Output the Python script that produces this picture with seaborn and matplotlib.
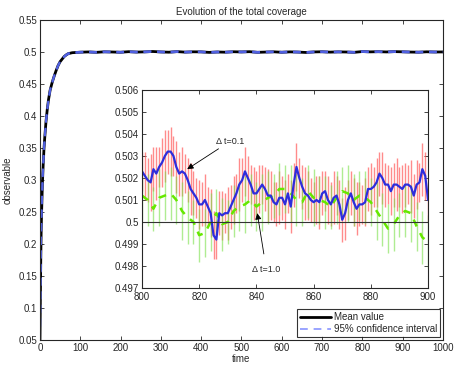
import numpy as np
import pandas as pd
import matplotlib
matplotlib.use('Agg')
import matplotlib.pyplot as plt
import seaborn as sns

# ---- main curve: mean coverage vs time ----
main_t = [0, 1, 2, 3, 4, 5, 6, 8, 10, 12, 15, 18, 21, 25, 30, 35, 40, 45, 50, 55, 60, 65, 70, 80, 90,
          100, 120, 140, 160, 180, 200, 220, 240, 260, 280, 300, 320, 340, 360, 380, 400, 420, 440, 460,
          480, 500, 520, 540, 560, 580, 600, 620, 640, 660, 680, 700, 720, 740, 760, 780, 800, 820, 840,
          860, 880, 900, 920, 940, 960, 980, 1000]
main_y = [0.05, 0.12, 0.18, 0.222, 0.25, 0.272, 0.295, 0.325, 0.35, 0.368, 0.392, 0.41, 0.425, 0.44,
          0.452, 0.462, 0.471, 0.479, 0.485, 0.489, 0.493, 0.4955, 0.4975, 0.4990, 0.4994,
          0.4998, 0.5002, 0.4996, 0.5004, 0.5001, 0.4997, 0.5006, 0.5000, 0.5003, 0.5009, 0.5002,
          0.4998, 0.5007, 0.4999, 0.5004, 0.5003, 0.4995, 0.5001, 0.4998, 0.5005, 0.5002, 0.5006,
          0.4996, 0.5000, 0.5004, 0.4997, 0.5003, 0.5000, 0.4994, 0.5002, 0.5005, 0.4999, 0.5003,
          0.5001, 0.4996, 0.5008, 0.5003, 0.5006, 0.5002, 0.5007, 0.5004, 0.5000, 0.4998, 0.5004,
          0.5001, 0.5002]
ci_half = 0.0006

# ---- inset: dt = 0.1 (blue, red error bars), every time unit 800..900 ----
t_fine = list(range(800, 901))
y_fine = [0.5023, 0.5021, 0.5019, 0.5018, 0.5024, 0.5022, 0.5025, 0.5027, 0.5030, 0.5032,
          0.5032, 0.5030, 0.5025, 0.5022, 0.5023, 0.5022, 0.5019, 0.5015, 0.5013, 0.5011,
          0.5008, 0.5008, 0.5010, 0.5007, 0.5004, 0.4994, 0.4992, 0.5004, 0.5003, 0.5004,
          0.5004, 0.5007, 0.5010, 0.5013, 0.5017, 0.5019, 0.5023, 0.5020, 0.5017, 0.5013,
          0.5013, 0.5015, 0.5017, 0.5015, 0.5012, 0.5012, 0.5009, 0.5008, 0.5011, 0.5011,
          0.5008, 0.5013, 0.5007, 0.5017, 0.5025, 0.5020, 0.5016, 0.5013, 0.5012, 0.5010,
          0.5009, 0.5010, 0.5009, 0.5013, 0.5014, 0.5010, 0.5008, 0.5011, 0.5012, 0.5008,
          0.5001, 0.5004, 0.5010, 0.5013, 0.5009, 0.5006, 0.5008, 0.5008, 0.5009, 0.5015,
          0.5015, 0.5016, 0.5018, 0.5022, 0.5020, 0.5017, 0.5017, 0.5014, 0.5017, 0.5017,
          0.5016, 0.5015, 0.5017, 0.5017, 0.5016, 0.5012, 0.5017, 0.5018, 0.5024, 0.5021,
          0.5010]
err_fine = [0.0009, 0.0011, 0.0010, 0.0013, 0.0010, 0.0012, 0.0009, 0.0011, 0.0012, 0.0010,
            0.0011, 0.0009, 0.0012, 0.0010, 0.0011, 0.0009, 0.0010, 0.0012, 0.0010, 0.0009,
            0.0011, 0.0010, 0.0012, 0.0009, 0.0011, 0.0011, 0.0009, 0.0010, 0.0011, 0.0009,
            0.0012, 0.0010, 0.0011, 0.0009, 0.0012, 0.0010, 0.0011, 0.0010, 0.0009, 0.0012,
            0.0010, 0.0011, 0.0009, 0.0010, 0.0012, 0.0011, 0.0009, 0.0010, 0.0012, 0.0010,
            0.0011, 0.0009, 0.0012, 0.0010, 0.0011, 0.0009, 0.0010, 0.0012, 0.0011, 0.0010,
            0.0009, 0.0011, 0.0012, 0.0010, 0.0009, 0.0011, 0.0010, 0.0012, 0.0009, 0.0011,
            0.0010, 0.0012, 0.0009, 0.0010, 0.0011, 0.0012, 0.0010, 0.0009, 0.0011, 0.0010,
            0.0012, 0.0009, 0.0011, 0.0010, 0.0012, 0.0010, 0.0009, 0.0011, 0.0010, 0.0012,
            0.0009, 0.0011, 0.0010, 0.0009, 0.0012, 0.0010, 0.0011, 0.0009, 0.0012, 0.0011,
            0.0010]

# ---- inset: dt = 1.0 (green dashed, green error bars), every 2 time units ----
t_coarse = list(range(800, 901, 2))
y_coarse = [0.5012, 0.5010, 0.5006, 0.5011, 0.5012, 0.5013, 0.5010, 0.5005, 0.5002, 0.5000,
            0.4994, 0.4995, 0.5000, 0.5004, 0.4999, 0.5000, 0.5005, 0.5007, 0.5008, 0.5010,
            0.5007, 0.5009, 0.5011, 0.5012, 0.5015, 0.5015, 0.5013, 0.5010, 0.5009, 0.5014,
            0.5011, 0.5010, 0.5009, 0.5007, 0.5011, 0.5014, 0.5013, 0.5010, 0.5012, 0.5011,
            0.5009, 0.5005, 0.5001, 0.4997, 0.4999, 0.5003, 0.5005, 0.5004, 0.4998, 0.4993,
            0.4991]
err_coarse = [0.0011, 0.0012, 0.0010, 0.0013, 0.0011, 0.0012, 0.0011, 0.0013, 0.0012, 0.0010,
              0.0012, 0.0011, 0.0013, 0.0011, 0.0012, 0.0010, 0.0012, 0.0011, 0.0013, 0.0012,
              0.0011, 0.0013, 0.0012, 0.0010, 0.0012, 0.0011, 0.0013, 0.0012, 0.0011, 0.0012,
              0.0013, 0.0011, 0.0012, 0.0010, 0.0012, 0.0011, 0.0013, 0.0012, 0.0011, 0.0012,
              0.0011, 0.0013, 0.0012, 0.0011, 0.0012, 0.0010, 0.0012, 0.0013, 0.0011, 0.0012,
              0.0012]

main_xticks = list(range(0, 1001, 100))
main_yticks = [0.05, 0.1, 0.15, 0.2, 0.25, 0.3, 0.35, 0.4, 0.45, 0.5, 0.55]
inset_xticks = [800, 820, 840, 860, 880, 900]
inset_yticks = [0.497, 0.498, 0.499, 0.5, 0.501, 0.502, 0.503, 0.504, 0.505, 0.506]

sns.set_style('ticks')
plt.rcParams['font.family'] = ['Liberation Sans', 'DejaVu Sans']
plt.rcParams['xtick.direction'] = 'in'
plt.rcParams['ytick.direction'] = 'in'

main_df = pd.DataFrame({'time': main_t, 'mean': main_y})
main_df['upper'] = main_df['mean'] + ci_half
main_df['lower'] = main_df['mean'] - ci_half
fine_df = pd.DataFrame({'time': t_fine, 'val': y_fine, 'err': err_fine})
coarse_df = pd.DataFrame({'time': t_coarse, 'val': y_coarse, 'err': err_coarse})

fig = plt.figure(figsize=(4.57, 3.65), dpi=100)
ax = fig.add_axes([0.0875, 0.0685, 0.8815, 0.8765])

sns.lineplot(data=main_df, x='time', y='mean', ax=ax, color='black', linewidth=2.0, label='Mean value')
sns.lineplot(data=main_df, x='time', y='upper', ax=ax, color='#5060e0', linewidth=1.4,
             linestyle=(0, (4, 3)), label='95% confidence interval')
sns.lineplot(data=main_df, x='time', y='lower', ax=ax, color='#5060e0', linewidth=1.4,
             linestyle=(0, (4, 3)), label='_nolegend_')

ax.set_xlim(0, 1000)
ax.set_ylim(0.05, 0.55)
ax.set_xticks(main_xticks)
ax.set_yticks(main_yticks)
ax.set_xticklabels([str(v) for v in main_xticks])
ax.set_yticklabels([f'{v:g}' for v in main_yticks])
ax.tick_params(labelsize=7, length=3, width=0.6, top=True, right=True, pad=2)
ax.set_xlabel('time', fontsize=7, labelpad=1)
ax.set_ylabel('observable', fontsize=7, labelpad=4)
ax.set_title('Evolution of the total coverage', fontsize=7, pad=4)
for s in ax.spines.values():
    s.set_linewidth(0.8)
leg = ax.legend(loc='lower right', fontsize=7, frameon=True, fancybox=False,
                borderpad=0.3, labelspacing=0.2, handlelength=3.2, handletextpad=0.3,
                borderaxespad=0.3)
leg.get_frame().set_edgecolor('black')
leg.get_frame().set_linewidth(0.8)
for h in leg.get_lines():
    if h.get_label() == '95% confidence interval':
        h.set_color('#9aa4ff')

# ---- inset ----
ins = fig.add_axes([0.3107, 0.211, 0.626, 0.5425])
ins.vlines(fine_df['time'], fine_df['val'] - fine_df['err'], fine_df['val'] + fine_df['err'],
           color='#ff5a5a', alpha=0.7, linewidth=1.0)
ins.vlines(coarse_df['time'], coarse_df['val'] - coarse_df['err'], coarse_df['val'] + coarse_df['err'],
           color='#7be04a', alpha=0.6, linewidth=1.0)
sns.lineplot(data=coarse_df, x='time', y='val', ax=ins, color='#66e800', linewidth=1.8,
             linestyle=(0, (3, 3)))
sns.lineplot(data=fine_df, x='time', y='val', ax=ins, color='#2d2ddc', linewidth=1.6)
ins.axhline(0.5, color='#333333', linewidth=0.8)

ins.set_xlim(800, 900)
ins.set_ylim(0.497, 0.506)
ins.set_xticks(inset_xticks)
ins.set_yticks(inset_yticks)
ins.set_xticklabels([str(v) for v in inset_xticks])
ins.set_yticklabels([f'{v:g}' for v in inset_yticks])
ins.tick_params(labelsize=7, length=3, width=0.6, top=True, right=True, pad=2)
ins.tick_params(axis='x', pad=3)
ins.set_xlabel('')
ins.set_ylabel('')
for s in ins.spines.values():
    s.set_linewidth(0.8)

ins.annotate('Δ t=0.1', xy=(815.8, 0.5024), xytext=(826.0, 0.50368), fontsize=6.5,
             va='center', ha='left',
             arrowprops=dict(arrowstyle='-|>', color='black', lw=0.6, mutation_scale=9,
                             shrinkA=0, shrinkB=0))
ins.annotate('Δ t=1.0', xy=(840.3, 0.5004), xytext=(843.5, 0.49782), fontsize=6.5,
             va='center', ha='center',
             arrowprops=dict(arrowstyle='-|>', color='black', lw=0.6, mutation_scale=9,
                             shrinkA=6, shrinkB=0))

fig.savefig('out.png', dpi=100)
